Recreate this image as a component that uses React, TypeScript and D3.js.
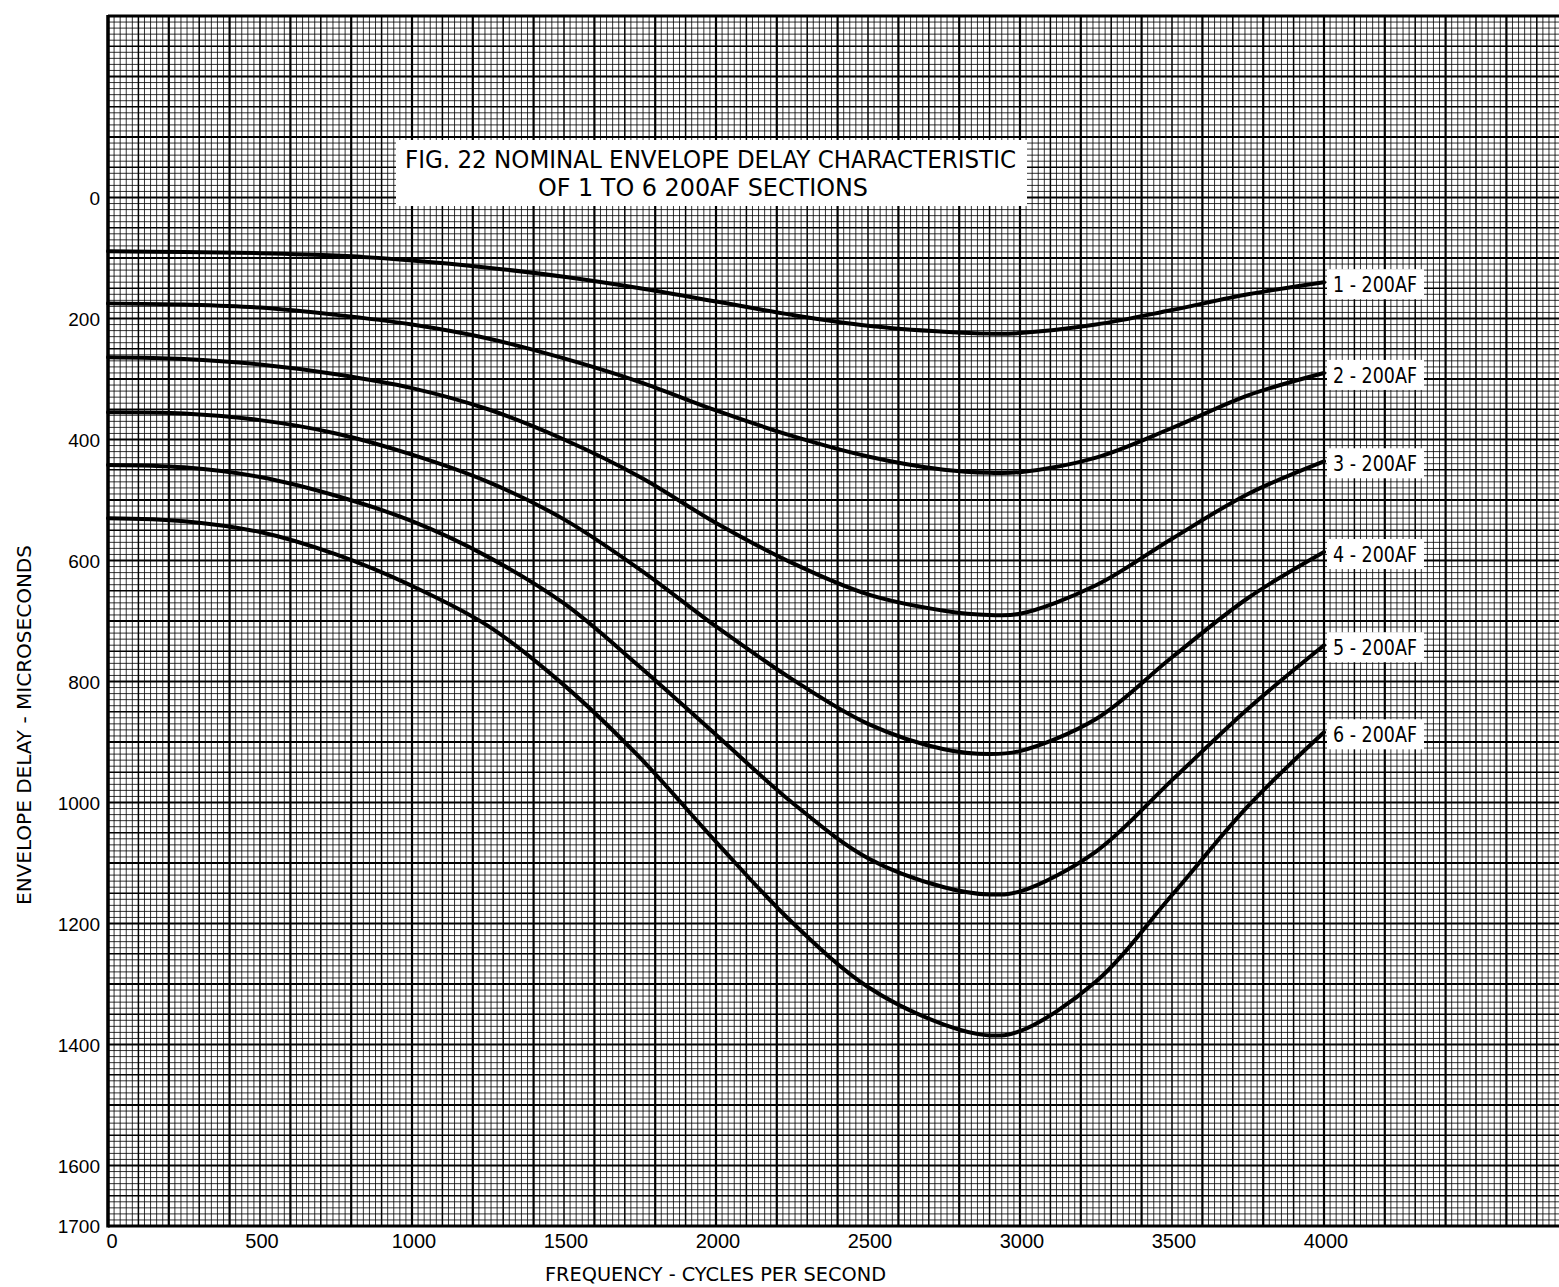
import React from 'react';
import * as d3 from 'd3';

// Frequency (cycles per second) sample points
const freqs = [0, 250, 500, 750, 1000, 1250, 1500, 1750, 2000, 2250, 2500, 2750, 2900, 3000, 3250, 3500, 3750, 4000];

// Envelope delay (microseconds) for 1..6 sections of 200AF
const delay1 = [89, 90, 92, 96, 104, 116, 131, 150, 172, 194, 212, 222, 225, 224, 210, 186, 160, 140];
const delay2 = [175, 177, 182, 194, 210, 233, 266, 305, 352, 394, 428, 450, 455, 454, 430, 381, 327, 290];
const delay3 = [264, 267, 276, 292, 315, 350, 400, 462, 538, 604, 656, 683, 690, 688, 641, 564, 490, 436];
const delay4 = [355, 357, 368, 390, 425, 470, 532, 615, 709, 796, 870, 912, 920, 915, 862, 760, 662, 586];
const delay5 = [442, 446, 462, 493, 535, 594, 671, 776, 888, 1000, 1092, 1140, 1152, 1147, 1081, 963, 845, 740];
const delay6 = [530, 535, 553, 590, 642, 708, 806, 926, 1065, 1198, 1305, 1367, 1385, 1378, 1296, 1153, 1006, 884];

const seriesValues = [delay1, delay2, delay3, delay4, delay5, delay6];
const seriesLabels = ['1 - 200AF', '2 - 200AF', '3 - 200AF', '4 - 200AF', '5 - 200AF', '6 - 200AF'];

const yTicks = [0, 200, 400, 600, 800, 1000, 1200, 1400, 1600, 1700];
const xTicks = [0, 500, 1000, 1500, 2000, 2500, 3000, 3500, 4000];

const titleLine1 = 'FIG. 22 NOMINAL ENVELOPE DELAY CHARACTERISTIC';
const titleLine2 = 'OF 1 TO 6 200AF SECTIONS';
const xTitle = 'FREQUENCY - CYCLES PER SECOND';
const yTitle = 'ENVELOPE DELAY - MICROSECONDS';

const FONT = "'Liberation Sans Narrow', 'DejaVu Sans Condensed', 'Roboto Condensed', 'Liberation Sans', Arial, sans-serif";
const NUMFONT = "'Liberation Sans', Arial, 'DejaVu Sans', sans-serif";

export default function App() {
  const W = 1559;
  const H = 1287;
  const x = d3.scaleLinear().domain([0, 4000]).range([108, 1324]);
  const y = d3.scaleLinear().domain([-300, 1700]).range([16, 1226]);
  const gridLeft = x(0);
  const gridRight = W + 2;
  const xMaxGrid = x.invert(gridRight);

  const vLines = d3.range(0, xMaxGrid, 20);
  const hLines = d3.range(-300, 1701, 10);

  const line = d3
    .line<[number, number]>()
    .x((d) => x(d[0]))
    .y((d) => y(d[1]))
    .curve(d3.curveCatmullRom.alpha(0.5));

  const style = (v: number, major: number, mid: number) => {
    if (Math.abs(v % major) < 1e-6) return { w: 2.2, o: 1 };
    if (Math.abs(v % mid) < 1e-6) return { w: 1.5, o: 1 };
    return { w: 1, o: 0.8 };
  };

  return (
    <svg
      width={W}
      height={H}
      viewBox={`0 0 ${W} ${H}`}
      style={{ position: 'absolute', left: 0, top: 0, background: '#fff' }}
    >
      <rect x={0} y={0} width={W} height={H} fill="#fff" />
      {/* grid */}
      <g>
        {vLines.map((v) => {
          const s = style(v, 200, 100);
          return (
            <line
              key={'v' + v}
              x1={x(v)}
              x2={x(v)}
              y1={y(-300)}
              y2={y(1700)}
              stroke="#000"
              strokeWidth={s.w}
              strokeOpacity={s.o}
            />
          );
        })}
        {hLines.map((v) => {
          const s = style(v, 100, 50);
          return (
            <line
              key={'h' + v}
              x1={gridLeft}
              x2={gridRight}
              y1={y(v)}
              y2={y(v)}
              stroke="#000"
              strokeWidth={s.w}
              strokeOpacity={s.o}
            />
          );
        })}
        {/* borders */}
        <line x1={gridLeft} x2={gridLeft} y1={y(-300) - 1} y2={y(1700) + 1.5} stroke="#000" strokeWidth={3.5} />
        <line x1={gridLeft} x2={gridRight} y1={y(-300)} y2={y(-300)} stroke="#000" strokeWidth={3} />
        <line x1={gridLeft} x2={gridRight} y1={y(1700)} y2={y(1700)} stroke="#000" strokeWidth={3} />
      </g>

      {/* title box */}
      <rect x={396} y={140} width={631} height={66} fill="#fff" />
      <text
        x={405}
        y={168}
        fontFamily={FONT}
        fontSize={24}
        textLength={611}
        lengthAdjust="spacingAndGlyphs"
        fill="#000"
      >
        {titleLine1}
      </text>
      <text
        x={538}
        y={196}
        fontFamily={FONT}
        fontSize={24}
        textLength={330}
        lengthAdjust="spacingAndGlyphs"
        fill="#000"
      >
        {titleLine2}
      </text>

      {/* curves */}
      {seriesValues.map((vals, i) => (
        <path
          key={'c' + i}
          d={line(freqs.map((f, j) => [f, vals[j]] as [number, number])) || ''}
          fill="none"
          stroke="#000"
          strokeWidth={4}
          strokeLinejoin="round"
          strokeLinecap="round"
        />
      ))}

      {/* series labels */}
      {seriesValues.map((vals, i) => {
        const cy = y(vals[vals.length - 1]) + 2;
        return (
          <g key={'l' + i}>
            <rect x={1327} y={cy - 15} width={97} height={30} fill="#fff" />
            <text
              x={1333}
              y={cy + 8}
              fontFamily={FONT}
              fontSize={22}
              textLength={84}
              lengthAdjust="spacingAndGlyphs"
              fill="#000"
            >
              {seriesLabels[i]}
            </text>
          </g>
        );
      })}

      {/* y tick labels */}
      {yTicks.map((t) => (
        <text
          key={'yt' + t}
          x={100}
          y={y(t) + 7}
          textAnchor="end"
          fontFamily={NUMFONT}
          fontSize={19}
          fill="#000"
        >
          {t}
        </text>
      ))}

      {/* x tick labels */}
      {xTicks.map((t) => (
        <text
          key={'xt' + t}
          x={x(t) + (t === 0 ? 4 : 2)}
          y={1248}
          textAnchor="middle"
          fontFamily={NUMFONT}
          fontSize={20}
          fill="#000"
        >
          {t}
        </text>
      ))}

      {/* axis titles */}
      <text
        x={545}
        y={1281}
        fontFamily={FONT}
        fontSize={19}
        textLength={341}
        lengthAdjust="spacingAndGlyphs"
        fill="#000"
      >
        {xTitle}
      </text>
      <text
        transform={`translate(31, 905) rotate(-90)`}
        fontFamily={FONT}
        fontSize={19}
        textLength={360}
        lengthAdjust="spacingAndGlyphs"
        fill="#000"
      >
        {yTitle}
      </text>
    </svg>
  );
}
